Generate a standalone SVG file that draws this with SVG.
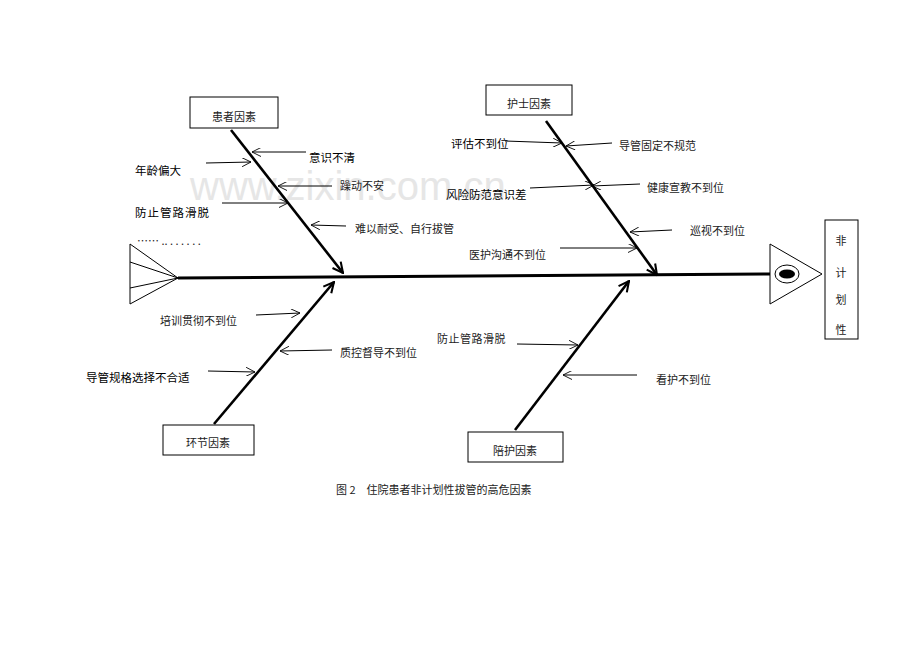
<svg xmlns="http://www.w3.org/2000/svg" width="920" height="651" viewBox="0 0 920 651">
<style>
.s{font-family:"Noto Sans CJK SC","Noto Sans",sans-serif;font-size:11px;fill:#222}
.h{font-family:"Noto Sans CJK SC","Noto Sans",sans-serif;font-size:11.5px;fill:#000}
.box{fill:#fff;stroke:#000;stroke-width:1}
.bone{stroke:#000;stroke-width:2.6;fill:none;marker-end:url(#big)}
.a{stroke:#000;stroke-width:1;fill:none;marker-end:url(#sm)}
</style>
<defs>
<marker id="big" viewBox="0 0 10 10" refX="9" refY="5" markerWidth="5" markerHeight="5" orient="auto" markerUnits="strokeWidth"><path d="M1,1 L9,5 L1,9" fill="none" stroke="#000" stroke-width="1.6"/></marker>
<marker id="sm" viewBox="0 0 10 10" refX="10" refY="5" markerWidth="12" markerHeight="9" orient="auto" markerUnits="userSpaceOnUse"><path d="M0,0 L10,5 L0,10" fill="none" stroke="#000" stroke-width="1"/></marker>
</defs>
<rect width="920" height="651" fill="#fff"/>
<text x="190" y="200" font-family="Liberation Sans,sans-serif" font-size="40" fill="#e6e6e6">www.zixin.com.cn</text>
<g id="connectors">
<line x1="178" y1="278" x2="771" y2="274" stroke="#000" stroke-width="3"/>
<path d="M130,244 L178,278 L130,304 M130,262 L178,278 M130,288 L178,278 M130,244 L130,304" stroke="#000" fill="none" stroke-width="1"/>
<line class="bone" x1="231" y1="130" x2="343" y2="273"/>
<line class="bone" x1="546" y1="121" x2="657" y2="275"/>
<line class="bone" x1="214" y1="424" x2="334" y2="282"/>
<line class="bone" x1="515" y1="430" x2="629" y2="281"/>
<line class="a" x1="306" y1="152" x2="252" y2="152"/>
<line class="a" x1="206" y1="163" x2="251" y2="162"/>
<line class="a" x1="332" y1="186" x2="278" y2="186"/>
<line class="a" x1="222" y1="203" x2="288" y2="203"/>
<line class="a" x1="346" y1="226" x2="311" y2="225"/>
<line class="a" x1="505" y1="141" x2="562" y2="143"/>
<line class="a" x1="612" y1="143" x2="566" y2="146"/>
<line class="a" x1="530" y1="188" x2="594" y2="185"/>
<line class="a" x1="640" y1="184" x2="592" y2="186"/>
<line class="a" x1="672" y1="230" x2="630" y2="232"/>
<line class="a" x1="560" y1="248" x2="637" y2="248"/>
<line class="a" x1="256" y1="315" x2="300" y2="313"/>
<line class="a" x1="332" y1="350" x2="280" y2="351"/>
<line class="a" x1="208" y1="371" x2="255" y2="372"/>
<line class="a" x1="517" y1="344" x2="578" y2="345"/>
<line class="a" x1="637" y1="375" x2="563" y2="375"/>
</g>
<g id="head">
<path d="M770,244 L822,274 L770,304 Z" fill="#fff" stroke="#000"/>
<ellipse cx="787" cy="274" rx="12" ry="9" fill="#fff" stroke="#000"/>
<ellipse cx="787" cy="274" rx="8" ry="4.5" fill="#000"/>
</g>
<g id="result"><rect class="box" x="825" y="220" width="33" height="119"/>
<text class="s" x="841" y="245" text-anchor="middle">非</text>
<text class="s" x="841" y="277" text-anchor="middle">计</text>
<text class="s" x="841" y="304" text-anchor="middle">划</text>
<text class="s" x="841" y="334" text-anchor="middle">性</text></g>
<g id="n1"><rect class="box" x="190" y="97" width="88" height="31"/><text class="s" x="234" y="121" text-anchor="middle">患者因素</text></g>
<g id="n2"><rect class="box" x="486" y="85" width="86" height="30"/><text class="s" x="529" y="108" text-anchor="middle">护士因素</text></g>
<g id="n3"><rect class="box" x="163" y="425" width="91" height="30"/><text class="s" x="208" y="447" text-anchor="middle">环节因素</text></g>
<g id="n4"><rect class="box" x="468" y="432" width="95" height="30"/><text class="s" x="515" y="455" text-anchor="middle">陪护因素</text></g>
<g id="labels">
<text class="h" x="309" y="162">意识不清</text>
<text class="h" x="135" y="175">年龄偏大</text>
<text class="s" x="340" y="190">躁动不安</text>
<text class="h" x="135" y="217" letter-spacing="1">防止管路滑脱</text>
<text class="s" x="355" y="233">难以耐受、自行拔管</text>
<text class="s" x="137" y="245" font-size="9">…… .. . . . . . .</text>
<text class="h" x="451" y="148">评估不到位</text>
<text class="s" x="619" y="150">导管固定不规范</text>
<text class="h" x="446" y="199">风险防范意识差</text>
<text class="s" x="647" y="192">健康宣教不到位</text>
<text class="s" x="690" y="235">巡视不到位</text>
<text class="s" x="469" y="259">医护沟通不到位</text>
<text class="s" x="160" y="325">培训贯彻不到位</text>
<text class="s" x="340" y="357">质控督导不到位</text>
<text class="h" x="86" y="382">导管规格选择不合适</text>
<text class="s" x="437" y="343" letter-spacing="0.5">防止管路滑脱</text>
<text class="s" x="656" y="384">看护不到位</text>
<text class="s" x="336" y="494" font-size="12">图 2　住院患者非计划性拔管的高危因素</text>
</g>
</svg>
